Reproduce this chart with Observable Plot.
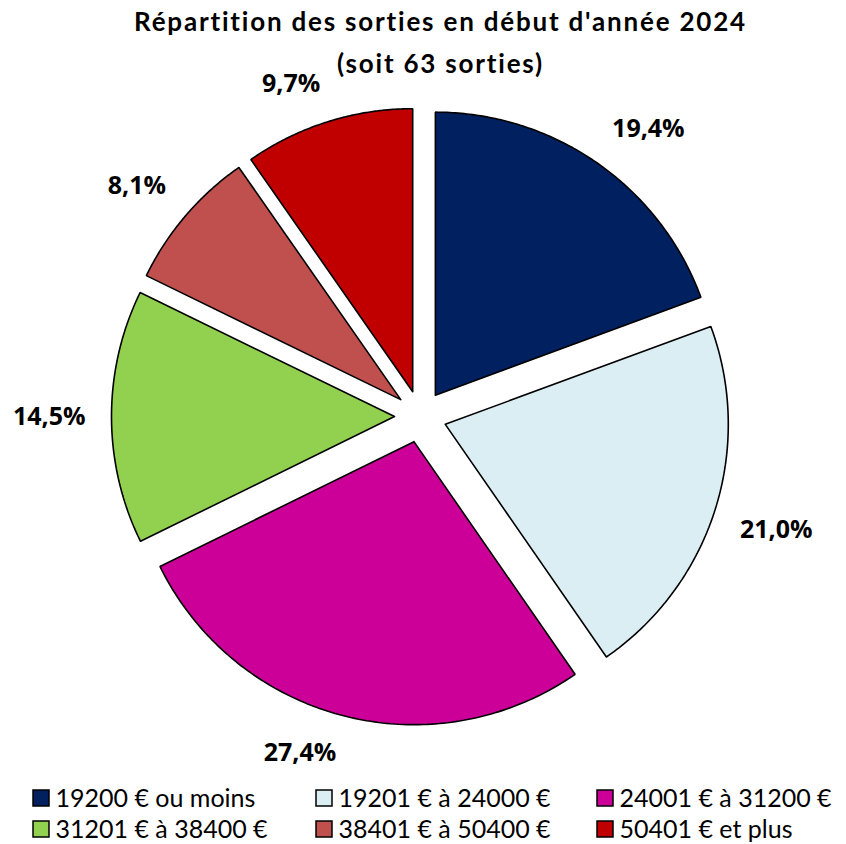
<!DOCTYPE html>
<html>
<head>
<meta charset="utf-8">
<script src="https://cdn.jsdelivr.net/npm/d3@7"></script>
<script src="https://cdn.jsdelivr.net/npm/@observablehq/plot@0.6"></script>
<style>
  html, body { margin: 0; padding: 0; background: #fff; }
</style>
</head>
<body>
<div id="chart"></div>
<script>
// ---- data ----
const categories = [
  "19200 € ou moins",
  "19201 € à 24000 €",
  "24001 € à 31200 €",
  "31201 € à 38400 €",
  "38401 € à 50400 €",
  "50401 € et plus"
];
const shares = [19.4, 21.0, 27.4, 14.5, 8.1, 9.7];
const colors = ["#002060", "#DAEEF3", "#CC0099", "#92D050", "#C0504D", "#C00000"];
const titleLines = ["Répartition des sorties en début d'année 2024", "(soit 63 sorties)"];

// ---- layout ----
const W = 846, H = 844;
const cx = 420, cy = 416, R = 283, explode = 26;
const labelSize = 25, labelDist = 335;
const fmt = v => v.toFixed(1).replace(".", ",") + "%";
const clamp = v => Math.max(-1, Math.min(1, v));

const arcs = d3.pie().sort(null).value(d => d)(shares);

const slicePts = [];
const labels = [];
arcs.forEach((a, i) => {
  const mid = (a.startAngle + a.endAngle) / 2;
  const dx = Math.sin(mid), dy = -Math.cos(mid);
  const ox = cx + explode * dx, oy = cy + explode * dy;
  slicePts.push({cat: categories[i], color: colors[i], x: ox, y: oy});
  const n = 120;
  for (let k = 0; k <= n; k++) {
    const t = a.startAngle + (a.endAngle - a.startAngle) * k / n;
    slicePts.push({cat: categories[i], color: colors[i], x: ox + R * Math.sin(t), y: oy - R * Math.cos(t)});
  }
  slicePts.push({cat: categories[i], color: colors[i], x: ox, y: oy});
  // label box anchored outside the slice, Excel-like
  const txt = fmt(shares[i]);
  const hw = txt.length * labelSize * 0.29, hh = labelSize * 0.5;
  const px = cx + labelDist * dx, py = cy + labelDist * dy;
  labels.push({text: txt, x: px + hw * clamp(dx * 4), y: py + hh * clamp(dy * 4)});
});

const legCols = [33, 316, 597], legRows = [798, 829], sw = 16;
const legend = categories.map((c, i) => {
  const lx = legCols[i % 3], ly = legRows[Math.floor(i / 3)];
  return {cat: c, color: colors[i], x1: lx, x2: lx + sw, y1: ly - sw / 2, y2: ly + sw / 2, tx: lx + sw + 6, ty: ly};
});

const titleSize = 26;
const titles = titleLines.map((t, i) => ({t, x: 440, y: 30 + i * 42 - 0.32 * titleSize}));

const chart = Plot.plot({
  width: W, height: H,
  margin: 0,
  x: {domain: [0, W], range: [0, W], axis: null},
  y: {domain: [0, H], range: [0, H], axis: null},
  color: {type: "identity"},
  style: {fontFamily: "Lato, sans-serif", background: "#fff"},
  marks: [
    Plot.line(slicePts, {x: "x", y: "y", z: "cat", fill: "color", stroke: "#000", strokeWidth: 1.6, strokeLinejoin: "miter", curve: "linear"}),
    Plot.text(labels, {x: "x", y: "y", text: "text", fontSize: labelSize, fontWeight: "bold", fontFamily: "'Open Sans'", fill: "#000"}),
    Plot.text(titles, {x: "x", y: "y", text: "t", fontSize: titleSize, fontWeight: "bold", fill: "#000"}),
    Plot.rect(legend, {x1: "x1", x2: "x2", y1: "y1", y2: "y2", fill: "color", stroke: "#000", strokeWidth: 1.5}),
    Plot.text(legend, {x: "tx", y: "ty", text: "cat", textAnchor: "start", fontSize: 25, fill: "#000"})
  ]
});
d3.select(chart).selectAll("text").filter(function() { return titleLines.includes(this.textContent); })
  .attr("letter-spacing", "1.8px");
document.getElementById("chart").appendChild(chart);
</script>
</body>
</html>
